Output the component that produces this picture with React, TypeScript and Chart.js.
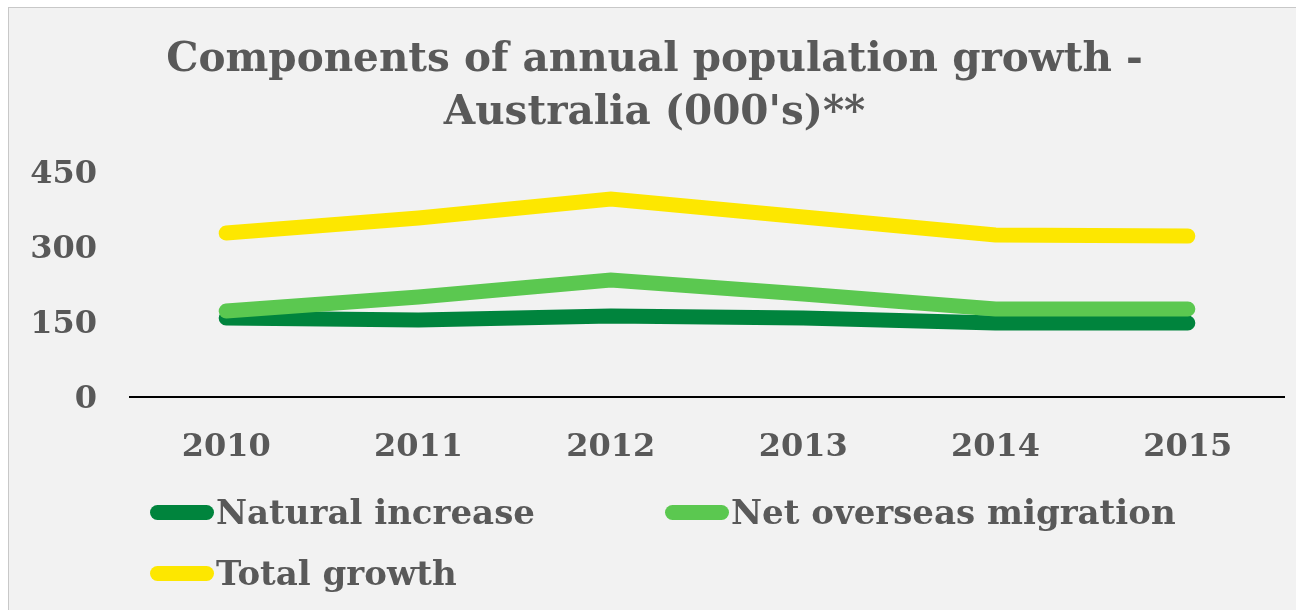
import React, { useEffect, useRef } from "react";
import { Chart, registerables } from "chart.js";

Chart.register(...registerables);

const categories = ["2010", "2011", "2012", "2013", "2014", "2015"];
const naturalIncrease = [158, 154, 162, 158, 148, 148];
const netOverseasMigration = [172, 200, 234, 206, 176, 176];
const totalGrowth = [328, 358, 396, 360, 324, 322];
const yTicks = [0, 150, 300, 450];
const titleLines = ["Components of annual population growth -", "Australia (000's)**"];

const FONT = "'DejaVu Serif', serif";
const TEXT = "#595959";
const C_NAT = "#00843d";
const C_NET = "#5bc850";
const C_TOT = "#fde700";

const legendItems = [
  { label: "Natural increase", color: C_NAT, x: 141, y: 504 },
  { label: "Net overseas migration", color: C_NET, x: 656, y: 504 },
  { label: "Total growth", color: C_TOT, x: 141, y: 565 },
];

export default function App() {
  const ref = useRef<HTMLCanvasElement | null>(null);
  useEffect(() => {
    const ctx = ref.current!.getContext("2d")!;
    const chart = new Chart(ctx, {
      type: "line",
      data: {
        labels: categories,
        datasets: [
          { label: "Natural increase", data: naturalIncrease, borderColor: C_NAT, backgroundColor: C_NAT, order: 2 },
          { label: "Net overseas migration", data: netOverseasMigration, borderColor: C_NET, backgroundColor: C_NET, order: 1 },
          { label: "Total growth", data: totalGrowth, borderColor: C_TOT, backgroundColor: C_TOT, order: 0 },
        ].map((d) => ({
          ...d,
          borderWidth: 15,
          pointRadius: 0,
          tension: 0,
          borderCapStyle: "round" as const,
          borderJoinStyle: "miter" as const,
          fill: false,
        })),
      },
      options: {
        responsive: false,
        animation: false,
        layout: { padding: { top: 0, right: 21, bottom: 0, left: 16 } },
        plugins: {
          legend: { display: false },
          tooltip: { enabled: false },
          title: {
            display: true,
            text: titleLines,
            color: TEXT,
            font: { family: FONT, size: 40.5, weight: "bold", lineHeight: 1.31 },
            padding: { top: 26, bottom: 32 },
          },
        },
        scales: {
          x: {
            offset: true,
            grid: { display: false, drawTicks: false },
            border: { display: true, color: "#000000", width: 2 },
            ticks: {
              color: TEXT,
              font: { family: FONT, size: 32, weight: "bold" },
              padding: 31,
            },
            afterFit: (s: any) => {
              s.height = 214;
            },
          },
          y: {
            min: 0,
            max: 450,
            afterBuildTicks: (s: any) => {
              s.ticks = yTicks.map((v) => ({ value: v }));
            },
            grid: { display: false, drawTicks: false },
            border: { display: false },
            ticks: {
              color: TEXT,
              font: { family: FONT, size: 32, weight: "bold" },
              padding: 33,
              labelOffset: 3,
            },
            afterFit: (s: any) => {
              s.width = 105;
            },
          },
        },
      },
    });
    return () => chart.destroy();
  }, []);

  return (
    <div
      style={{
        position: "fixed",
        left: 8,
        top: 7,
        width: 1300,
        height: 610,
        border: "1px solid #c8c8c8",
        background: "#f2f2f2",
        overflow: "hidden",
      }}
    >
      <canvas ref={ref} width={1296} height={603} style={{ display: "block" }} />
      {legendItems.map((it) => (
        <div
          key={it.label}
          style={{
            position: "absolute",
            left: it.x,
            top: it.y - 25,
            height: 50,
            display: "flex",
            alignItems: "center",
            whiteSpace: "nowrap",
          }}
        >
          <div
            style={{
              width: 64,
              height: 15,
              borderRadius: 8,
              background: it.color,
              marginRight: 2,
            }}
          />
          <span style={{ fontFamily: FONT, fontWeight: "bold", fontSize: 34, color: TEXT }}>{it.label}</span>
        </div>
      ))}
    </div>
  );
}
